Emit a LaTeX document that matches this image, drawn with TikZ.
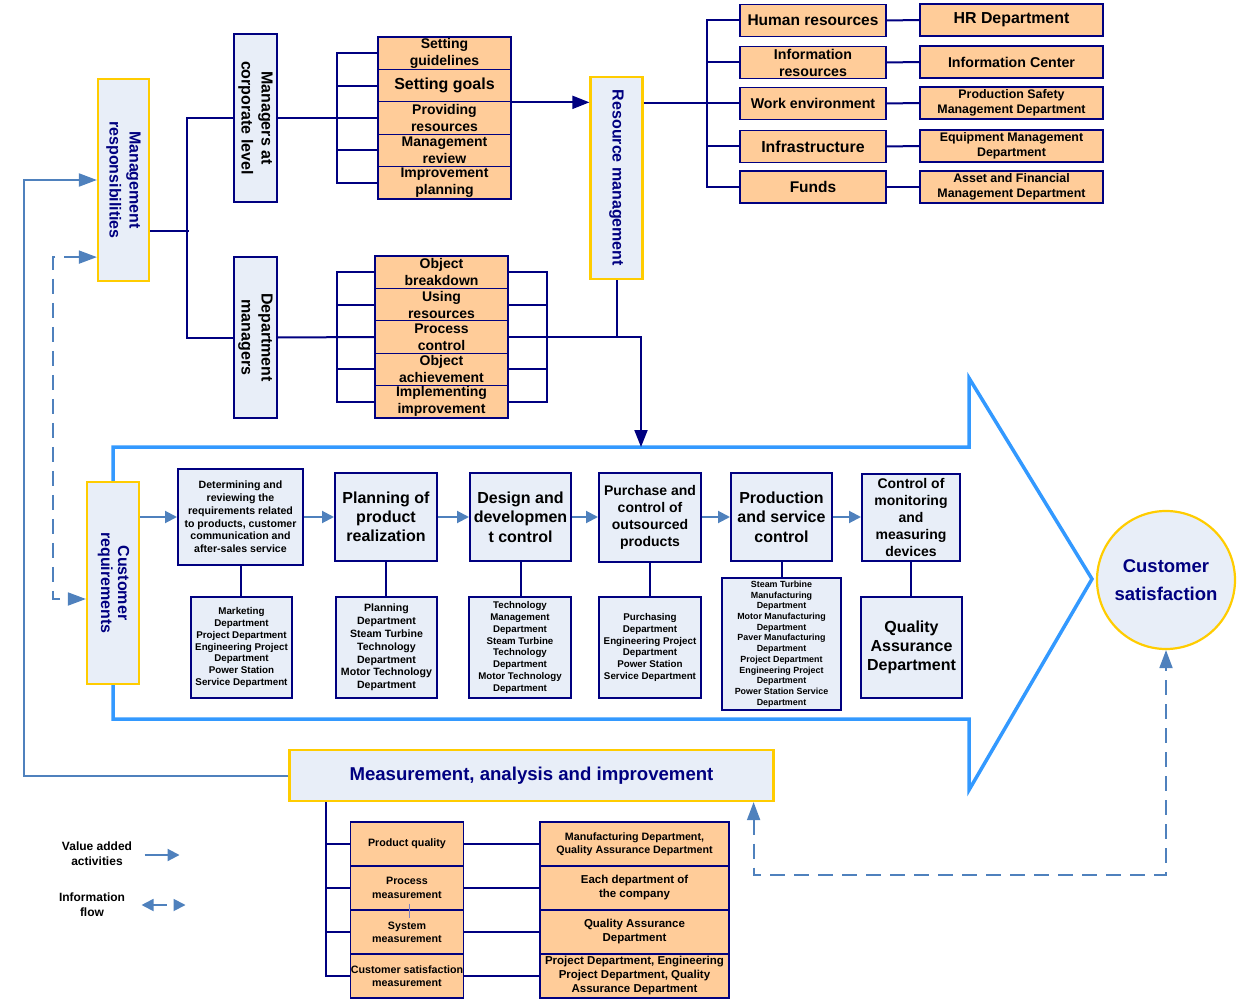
\documentclass[tikz,border=0pt]{standalone}
\usepackage{fontspec}
\setmainfont{Liberation Sans}
\usepackage{graphicx}
\usetikzlibrary{arrows.meta,calc}

\definecolor{navy}{HTML}{000080}
\definecolor{paleblue}{HTML}{E8EEF8}
\definecolor{peach}{HTML}{FFCC99}
\definecolor{gold}{HTML}{FFCC00}
\definecolor{skyline}{HTML}{3399FF}
\definecolor{flowblue}{HTML}{4F81BD}

\newcommand{\fsz}[2]{\fontsize{#1}{#2}\selectfont\bfseries}
\newcommand{\sidetext}[1]{\rotatebox{-90}{\begin{tabular}{@{}c@{}}#1\end{tabular}}}

\tikzset{
  yellowbox/.style={draw=gold, line width=2.2pt, fill=paleblue, text=navy, inner sep=0pt},
  navybox/.style={draw=navy, line width=2pt, fill=paleblue, inner sep=0pt, align=center},
  orangebox/.style={draw=navy, line width=1.1pt, fill=peach, inner sep=0pt, align=center},
  navyline/.style={draw=navy, line width=2pt},
  navyarrow/.style={navyline, -{Triangle[length=17pt,width=13pt]}},
  flowarrow/.style={draw=flowblue, line width=2pt, -{Triangle[length=12pt,width=12pt]}},
  fbline/.style={draw=flowblue, line width=2pt, -{Triangle[length=18pt,width=13pt]}},
  infoflow/.style={draw=flowblue, line width=1.8pt, dash pattern=on 15pt off 9pt,
    {Triangle[length=18pt,width=13pt]}-{Triangle[length=18pt,width=13pt]}},
  bigarrow/.style={draw=skyline, line width=3.5pt, line join=miter}
}

\begin{document}
\begin{tikzpicture}[x=1pt,y=-1pt]
    \useasboundingbox (0,0) rectangle (1240,1003);

    % the process arrow
    \draw[bigarrow] (113,447) -- (969,447) -- (969,378) -- (1092,579)
        -- (969,790) -- (969,719) -- (113,719) -- cycle;
    \coordinate (tip) at (641,447);

    \begin{scope}[every node/.style={yellowbox, font=\fsz{16}{20}}]
        \node[minimum width=51, minimum height=202] (mr) at (123.5,180) {\sidetext{Management\\responsibilities}};
        \node[minimum width=52, minimum height=202] (rm) at (616.5,178) {\sidetext{Resource management}};
        \node[minimum width=52, minimum height=202, font=\fsz{16}{17}] (cr) at (113,583) {\sidetext{Customer\\requirements}};
        \node[minimum width=484, minimum height=51, font=\fsz{18.6}{22}] (ma) at (531.5,775.5) {Measurement, analysis and improvement};
        \node[circle, minimum size=138, align=center, font=\fsz{18.5}{28}] (cs) at (1166,580) {Customer\\satisfaction};
    \end{scope}

    \begin{scope}[every node/.style={navybox, minimum width=43, font=\fsz{16}{20}}]
        \node[minimum height=168] (mc) at (255.5,118) {\sidetext{Managers at\\corporate level}};
        \node[minimum height=161] (md) at (255.5,337.5) {\sidetext{Department\\managers}};
    \end{scope}

    % corporate and department tasks
    \begin{scope}[every node/.style={orangebox, minimum width=133, minimum height=32.4, font=\fsz{14}{17}}]
        \node (sg) at (444.5,53.2) {Setting\\guidelines};
        \node[font=\fsz{16}{19}] (go) at (444.5,85.6) {Setting goals};
        \node (pr) at (444.5,118) {Providing\\resources};
        \node (mv) at (444.5,150.4) {Management\\review};
        \node (ip) at (444.5,182.8) {Improvement\\planning};

        \node (ob) at (441.5,272.2) {Object\\breakdown};
        \node (ur) at (441.5,304.6) {Using\\resources};
        \node (pc) at (441.5,337) {Process\\control};
        \node (oa) at (441.5,369.4) {Object\\achievement};
        \node (ii) at (441.5,401.8) {Implementing\\improvement};
    \end{scope}

    % resources and their departments
    \begin{scope}[every node/.style={orangebox, minimum height=32, font=\fsz{14.2}{17}}]
        \node[minimum width=146, font=\fsz{15.5}{19}] (hr) at (813,20.5) {Human resources};
        \node[minimum width=146] (ir) at (813,62.5) {Information\\resources};
        \node[minimum width=146] (we) at (813,103.5) {Work environment};
        \node[minimum width=146, font=\fsz{15.9}{19}] (inf) at (813,146.5) {Infrastructure};
        \node[minimum width=146, font=\fsz{15.5}{19}] (fu) at (813,187) {Funds};

        \node[minimum width=183, font=\fsz{15.9}{19}] (hrd) at (1011.5,20) {HR Department};
        \node[minimum width=183] (irc) at (1011.5,62) {Information Center};
        \node[minimum width=183, font=\fsz{12.4}{15}] (wed) at (1011.5,103) {Production Safety\\Management Department};
        \node[minimum width=183, font=\fsz{12.4}{15}] (ind) at (1011.5,146) {Equipment Management\\Department};
        \node[minimum width=183, font=\fsz{12.4}{15}] (fud) at (1011.5,187) {Asset and Financial\\Management Department};
    \end{scope}

    % realization processes
    \begin{scope}[every node/.style={navybox}]
        \node[minimum width=125, minimum height=96, font=\fsz{10.6}{12.8}] (p1) at (240.5,517)
            {Determining and\\reviewing the\\requirements related\\to products, customer\\communication and\\after-sales service};
        \node[minimum width=102, minimum height=88, font=\fsz{16}{19}] (p2) at (386,517) {Planning of\\product\\realization};
        \node[minimum width=101, minimum height=88, font=\fsz{16}{19.5}] (p3) at (520.5,517) {Design and\\developmen\\t control};
        \node[minimum width=102, minimum height=89, font=\fsz{14}{17}] (p4) at (650,517) {Purchase and\\control of\\outsourced\\products};
        \node[minimum width=101, minimum height=88, font=\fsz{16}{19.5}] (p5) at (781.5,517) {Production\\and service\\control};
        \node[minimum width=98, minimum height=87, font=\fsz{14}{17}] (p6) at (911,517) {Control of\\monitoring\\and\\measuring\\devices};

        \node[minimum width=101, minimum height=101, font=\fsz{9.8}{11.7}] (d1) at (241.5,647.5)
            {Marketing\\Department\\Project Department\\Engineering Project\\Department\\Power Station\\Service Department};
        \node[minimum width=101, minimum height=101, font=\fsz{10.6}{12.8}] (d2) at (386.5,647.5)
            {Planning\\Department\\Steam Turbine\\Technology\\Department\\Motor Technology\\Department};
        \node[minimum width=102, minimum height=101, font=\fsz{9.7}{11.8}] (d3) at (520,647.5)
            {Technology\\Management\\Department\\Steam Turbine\\Technology\\Department\\Motor Technology\\Department};
        \node[minimum width=102, minimum height=101, font=\fsz{9.8}{11.7}] (d4) at (650,647.5)
            {Purchasing\\Department\\Engineering Project\\Department\\Power Station\\Service Department};
        \node[minimum width=119, minimum height=132, font=\fsz{8.9}{10.7}] (d5) at (781.5,644)
            {Steam Turbine\\Manufacturing\\Department\\Motor Manufacturing\\Department\\Paver Manufacturing\\Department\\Project Department\\Engineering Project\\Department\\Power Station Service\\Department};
        \node[minimum width=101, minimum height=101, font=\fsz{16}{19.3}] (d6) at (911.5,647.5) {Quality\\Assurance\\Department};
    \end{scope}

    % measurement tasks
    \begin{scope}[every node/.style={orangebox, minimum height=44, font=\fsz{10.7}{13.3}}]
        \node[minimum width=113] (m1) at (407,844) {Product quality};
        \node[minimum width=113] (m2) at (407,888) {Process\\measurement};
        \node[minimum width=113] (m3) at (407,932) {System\\measurement};
        \node[minimum width=113] (m4) at (407,976) {Customer satisfaction\\measurement};

        \node[minimum width=189, font=\fsz{10.7}{13}] (r1) at (634.5,844) {Manufacturing Department,\\Quality Assurance Department};
        \node[minimum width=189, font=\fsz{11.5}{14}] (r2) at (634.5,888) {Each department of\\the company};
        \node[minimum width=189, font=\fsz{11.5}{14}] (r3) at (634.5,932) {Quality Assurance\\Department};
        \node[minimum width=189, font=\fsz{11.5}{14}] (r4) at (634.5,976) {Project Department, Engineering\\Project Department, Quality\\Assurance Department};
    \end{scope}

    \node[font=\fsz{12}{15}, align=center] (va) at (97,853.5) {Value added\\activities};
    \node[font=\fsz{12}{15}, align=center] (inflow) at (92,904.5) {Information\\flow};

    % management tree
    \draw[navyline] (mr.east |- 0,231) -- ++(39,0);
    \draw[navyline] (mc.west) -- ++(-46,0) |- (md.west);
    \draw[navyline] (mc.east) -- (pr.west);
    \draw[navyline] (sg.west) -- ++(-40,0) |- (ip.west);
    \foreach \n in {go,pr,mv} \draw[navyline] (\n.west) -- ++(-40,0);
    \draw[navyline] (md.east) -- (pc.west);
    \draw[navyline] (ob.west) -- ++(-37,0) |- (ii.west);
    \draw[navyline] (ob.east) -- ++(38,0) |- (ii.east);
    \foreach \n in {ur,pc,oa} \draw[navyline] (\n.west) -- ++(-37,0) (\n.east) -- ++(38,0);
    \draw[navyarrow] (pc.east) ++(38,0) -| (tip);
    \draw[navyline] (rm.south) -- (rm.south |- pc.east);
    \draw[navyarrow] (go.south east) -- (go.south east -| rm.west);

    % resource tree
    \draw[navyline] (we.west -| rm.east) -- (we.west);
    \draw[navyline] (hr.west) -- ++(-32,0) |- (fu.west);
    \foreach \n in {ir,we,inf} \draw[navyline] (\n.west) -- ++(-32,0);
    \foreach \a/\b in {hr/hrd,ir/irc,we/wed,inf/ind,fu/fud} \draw[navyline] (\a.east) -- (\b.west);

    % process chain
    \draw[flowarrow] (p1.west -| cr.east) -- (p1.west);
    \foreach \a/\b in {p1/p2,p2/p3,p3/p4,p4/p5,p5/p6} \draw[flowarrow] (\a.east) -- (\b.west);
    \foreach \a/\b in {p1/d1,p2/d2,p3/d3,p4/d4,p5/d5,p6/d6} \draw[navyline] (\a.south) -- (\a.south |- \b.north);

    % measurement tree
    \draw[navyline] (ma.south -| 326,0) |- (m4.west);
    \foreach \n in {m1,m2,m3} \draw[navyline] (\n.west) -- (\n.west -| 326,0);
    \foreach \a/\b in {m1/r1,m2/r2,m3/r3,m4/r4} \draw[navyline] (\a.east) -- (\b.west);
    \draw[navy!50, line width=0.8pt] (m2.south) ++(2,-7) -- ++(0,14);

    % feedback
    \draw[fbline] (ma.west) -- (24,775.5) |- (mr.west);
    \draw[infoflow] ($(mr.south west)+(0,-25)$) -| (53,599) -- ($(cr.west)+(0,16)$);
    \draw[infoflow] ($(ma.south east)+(-21,0)$) -- ++(0,73) -| (cs.south);

    % legend
    \draw[flowarrow] (va.east) ++(9,1.5) -- ++(35,0);
    \draw[infoflow, dash pattern=on 14pt off 8pt, {Triangle[length=12pt,width=12pt]}-{Triangle[length=12pt,width=12pt]}]
        (inflow.east) ++(13,0.5) -- ++(44,0);
\end{tikzpicture}
\end{document}
